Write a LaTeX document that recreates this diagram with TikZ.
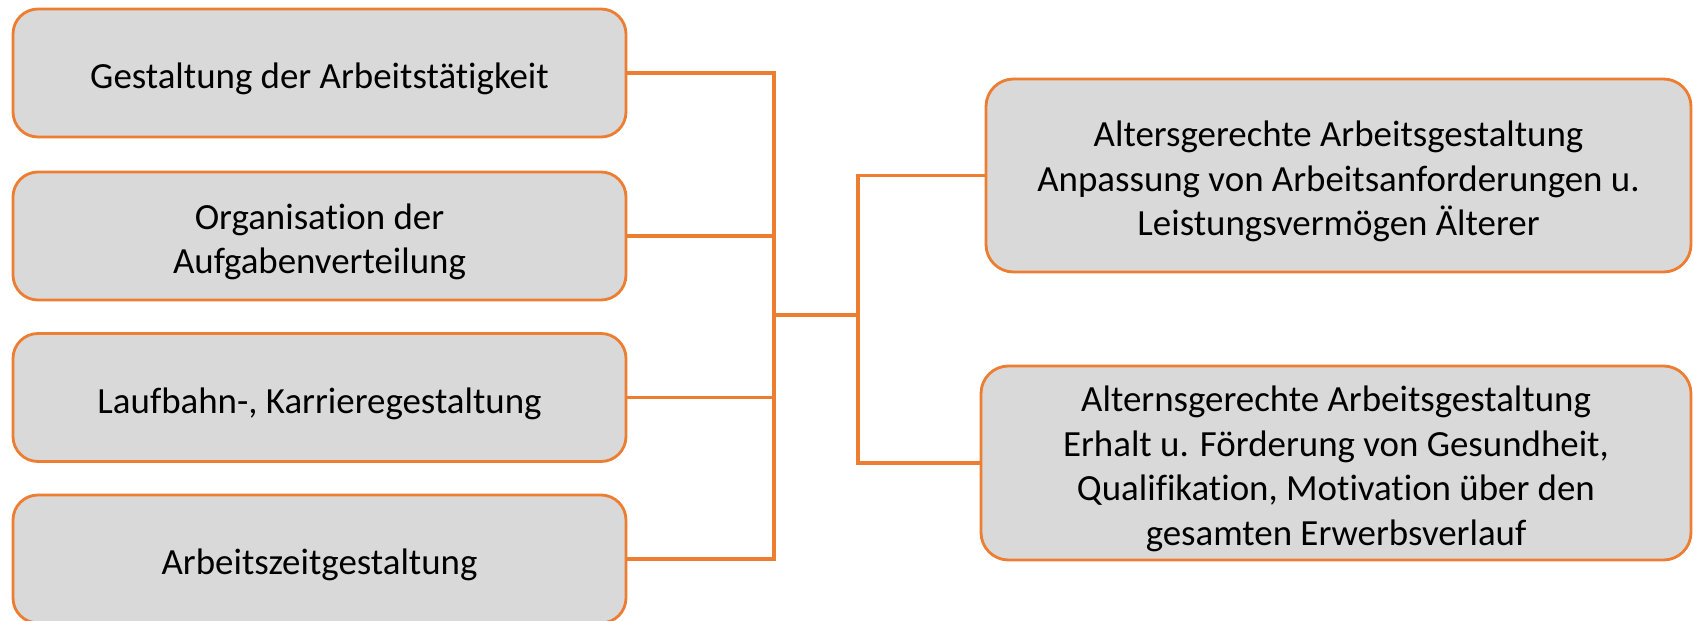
\documentclass[tikz,border=0pt]{standalone}
\usepackage{fontspec}
\setmainfont[Ligatures=NoCommon]{Carlito}
\usetikzlibrary{shapes,arrows,positioning,calc}

\definecolor{boxorange}{RGB}{237,125,49}
\definecolor{boxgray}{RGB}{217,217,217}

\tikzset{
    textlines/.style={execute at begin node={\rule{0pt}{\dimexpr 21.3pt+25.5pt*(#1-1)\relax}}},
    fieldbox/.style={draw=boxorange, fill=boxgray, line width=1.6pt, rounded corners=0.5cm,
        align=center, inner sep=0pt, font=\fontsize{21}{25.5}\selectfont},
    leftbox/.style={fieldbox, minimum width=12.26cm, minimum height=2.56cm},
    link/.style={draw=boxorange, line width=1.8pt}
}

\begin{document}
\begin{tikzpicture}
    \useasboundingbox (0,0) rectangle (33.86,12.4);

    % Left fields
    \node[leftbox, textlines=1] (taetigkeit) at (6.39,10.94) {Gestaltung der Arbeitstätigkeit};
    \node[leftbox, textlines=2] (aufgaben) at (6.39,7.68) {Organisation der\\Aufgabenverteilung};
    \node[leftbox, textlines=1] (laufbahn) at (6.39,4.45) {Laufbahn-, Karrieregestaltung};
    \node[leftbox, textlines=1] (arbeitszeit) at (6.39,1.22) {Arbeitszeitgestaltung};

    % Right fields
    \node[fieldbox, textlines=3, rounded corners=0.55cm, minimum width=14.1cm, minimum height=3.86cm] (alters) at (26.77,8.89)
        {Altersgerechte Arbeitsgestaltung\\Anpassung von Arbeitsanforderungen u.\\Leistungsvermögen Älterer};
    \node[fieldbox, textlines=4, rounded corners=0.55cm, minimum width=14.2cm, minimum height=3.88cm] (alterns) at (26.72,3.14)
        {Alternsgerechte Arbeitsgestaltung\\Erhalt u. Förderung von Gesundheit,\\Qualifikation, Motivation über den\\gesamten Erwerbsverlauf};

    % Bus lines
    \coordinate (busleft) at (15.48,6.1);
    \coordinate (busright) at (17.16,6.1);
    \foreach \n in {taetigkeit,aufgaben,laufbahn,arbeitszeit}
        \draw[link] (\n.east) -| (busleft);
    \draw[link] (busleft) -- (busright);
    \draw[link] (alters.west) -| (busright);
    \draw[link] (alterns.west) -| (busright);
\end{tikzpicture}
\end{document}
